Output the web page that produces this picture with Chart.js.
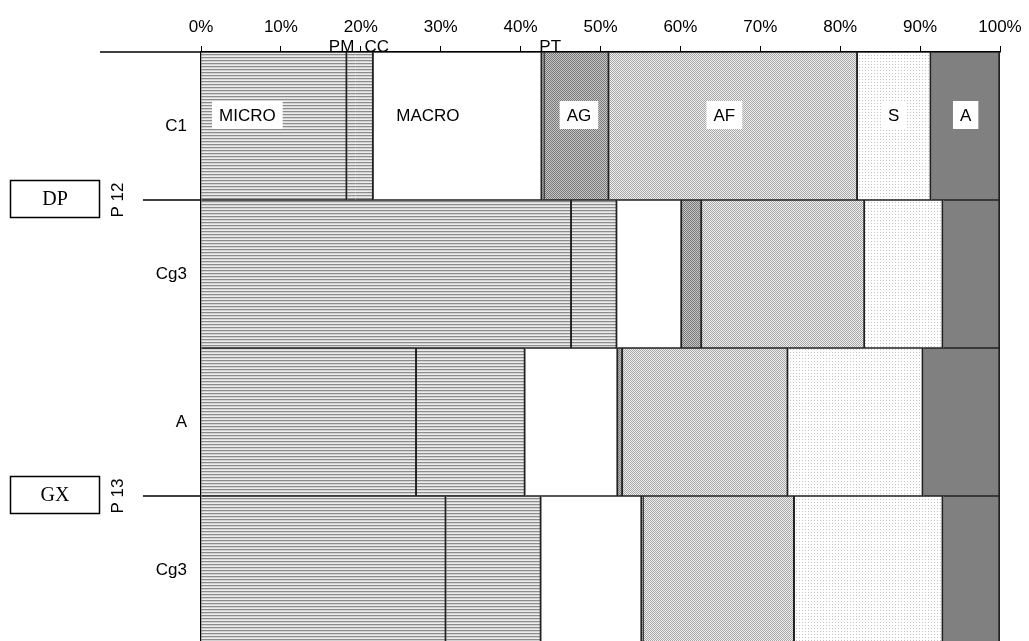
<!DOCTYPE html>
<html>
<head>
<meta charset="utf-8">
<script src="https://cdn.jsdelivr.net/npm/chart.js@4.4.1/dist/chart.umd.min.js"></script>
<style>
  html,body{margin:0;padding:0;background:#fff;overflow:hidden;}
  #wrap{position:absolute;left:0;top:0;width:1029px;height:644px;}
</style>
</head>
<body>
<div id="wrap"><canvas id="grafico" width="1029" height="644"></canvas></div>
<script>
// ===== DADOS =====
const linhas = ["C1", "Cg3", "A", "Cg3"];
const grupos = ["P 12", "P 13"];
const caixas = ["DP", "GX"];
const ticksX = [0, 10, 20, 30, 40, 50, 60, 70, 80, 90, 100];

const micro = [18.3, 46.4, 27.0, 30.7];
const pm    = [1.0, 0, 0, 0];
const cc    = [2.3, 5.7, 13.6, 11.9];
const macro = [21.1, 8.1, 11.6, 12.6];
const pt    = [0.3, 0, 0, 0];
const ag    = [8.1, 2.5, 0.6, 0.2];
const af    = [31.1, 20.4, 20.7, 18.9];
const s     = [9.2, 9.8, 16.9, 18.6];
const a     = [8.6, 7.1, 9.6, 7.1];

// ===== PADRÕES =====
function padrao(w, h, desenha){
  const c = document.createElement("canvas");
  c.width = w; c.height = h;
  const g = c.getContext("2d");
  desenha(g);
  return g.createPattern(c, "repeat");
}

const listras = padrao(4, 3, g => {
  g.fillStyle = "#ececec"; g.fillRect(0,0,4,3);
  g.fillStyle = "#8c8c8c"; g.fillRect(0,0,4,1);
  g.fillStyle = "#d2d2d2"; g.fillRect(0,1,4,1);
});
const escuro = padrao(2, 2, g => {
  g.fillStyle = "#c4c4c4"; g.fillRect(0,0,2,2);
  g.fillStyle = "#7a7a7a"; g.fillRect(0,0,1,1); g.fillRect(1,1,1,1);
});
const medio = padrao(2, 2, g => {
  g.fillStyle = "#eeeeee"; g.fillRect(0,0,2,2);
  g.fillStyle = "#a8a8a8"; g.fillRect(0,0,1,1); g.fillRect(1,1,1,1);
});
const ralo = padrao(3, 3, g => {
  g.fillStyle = "#ffffff"; g.fillRect(0,0,3,3);
  g.fillStyle = "#c4c4c4"; g.fillRect(1,1,1,1);
});

const borda = {left:0, top:1, bottom:1, right:2};
const semBorda = {left:0, top:1, bottom:1, right:0};

function serie(label, data, fundo, bw){
  return {
    label, data,
    backgroundColor: fundo,
    borderColor: "#222",
    borderWidth: bw || borda,
    borderSkipped: false,
    barPercentage: 1,
    categoryPercentage: 1
  };
}

// ===== RÓTULOS =====
const rotulosC1 = [
  {t:"MICRO", x:5.8, caixa:true},
  {t:"MACRO", x:28.4, caixa:false},
  {t:"AG", x:47.3, caixa:true},
  {t:"AF", x:65.5, caixa:true},
  {t:"S", x:86.7, caixa:true},
  {t:"A", x:95.7, caixa:true}
];
const rotulosTopo = [
  {t:"PM", x:17.6},
  {t:"CC", x:22.0},
  {t:"PT", x:43.7}
];

const extras = {
  id: "extras",
  afterDraw(chart){
    const ctx = chart.ctx;
    const xs = chart.scales.x, ys = chart.scales.y;
    const area = chart.chartArea;
    ctx.save();

    // linha do topo prolongada
    ctx.strokeStyle = "#000";
    ctx.lineWidth = 1.5;
    ctx.beginPath();
    ctx.moveTo(100, area.top);
    ctx.lineTo(area.left, area.top);
    ctx.stroke();

    // rótulos dentro da linha C1
    ctx.font = "17px 'Liberation Sans', Arial, sans-serif";
    ctx.textAlign = "center";
    ctx.textBaseline = "middle";
    const yC1 = ys.getPixelForValue(0) - 11;
    rotulosC1.forEach(r => {
      const px = xs.getPixelForValue(r.x);
      const w = ctx.measureText(r.t).width + 14;
      if (r.caixa){
        ctx.fillStyle = "#fff";
        ctx.fillRect(px - w/2, yC1 - 14, w, 28);
      }
      ctx.fillStyle = "#000";
      ctx.fillText(r.t, px, yC1 + 1);
    });

    // rótulos acima do eixo
    ctx.textBaseline = "alphabetic";
    rotulosTopo.forEach(r => {
      ctx.fillText(r.t, xs.getPixelForValue(r.x), area.top);
    });

    // grupos P 12 / P 13 e caixas DP / GX
    grupos.forEach((gname, i) => {
      const yg = (ys.getPixelForValue(i*2) + ys.getPixelForValue(i*2+1)) / 2;

      ctx.strokeStyle = "#000";
      ctx.lineWidth = 1.5;
      ctx.beginPath();
      ctx.moveTo(143, yg);
      ctx.lineTo(area.left, yg);
      ctx.stroke();

      ctx.save();
      ctx.translate(118, yg);
      ctx.rotate(-Math.PI/2);
      ctx.font = "17px 'Liberation Sans', Arial, sans-serif";
      ctx.textAlign = "center";
      ctx.textBaseline = "middle";
      ctx.fillStyle = "#000";
      ctx.fillText(gname, 0, 0);
      ctx.restore();

      ctx.lineWidth = 1.5;
      ctx.strokeRect(10.5, yg - 19.5, 89, 37);
      ctx.font = "20px 'Liberation Serif', 'Times New Roman', serif";
      ctx.textAlign = "center";
      ctx.textBaseline = "middle";
      ctx.fillStyle = "#000";
      ctx.fillText(caixas[i], 55, yg);
    });

    ctx.restore();
  }
};

new Chart(document.getElementById("grafico"), {
  type: "bar",
  data: {
    labels: linhas,
    datasets: [
      serie("MICRO", micro, listras),
      serie("PM", pm, listras, semBorda),
      serie("CC", cc, listras),
      serie("MACRO", macro, "#ffffff"),
      serie("PT", pt, escuro),
      serie("AG", ag, escuro),
      serie("AF", af, medio),
      serie("S", s, ralo),
      serie("A", a, "#808080")
    ]
  },
  options: {
    indexAxis: "y",
    responsive: false,
    animation: false,
    layout: { padding: {left:0, right:29, top:0, bottom:0} },
    plugins: {
      legend: {display:false},
      tooltip: {enabled:false}
    },
    scales: {
      x: {
        position: "top",
        stacked: true,
        min: 0, max: 100,
        afterFit(scale){
          scale.height = 52;
          scale.paddingLeft = 0;
          scale.paddingRight = 0;
        },
        afterBuildTicks(scale){ scale.ticks = ticksX.map(v => ({value:v})); },
        ticks: {
          color: "#000",
          font: {family:"'Liberation Sans', Arial, sans-serif", size:17},
          padding: 8,
          maxRotation: 0,
          autoSkip: false,
          callback: v => v + "%"
        },
        grid: {drawOnChartArea:false, drawTicks:true, tickLength:6, color:"#000", lineWidth:1},
        border: {display:true, color:"#000", width:1.5}
      },
      y: {
        stacked: true,
        afterFit(scale){
          scale.width = 201;
          scale.paddingTop = 0;
          scale.paddingBottom = 0;
        },
        ticks: {
          color: "#000",
          font: {family:"'Liberation Sans', Arial, sans-serif", size:17},
          padding: 14
        },
        grid: {display:false, drawTicks:false},
        border: {display:true, color:"#000", width:1.5}
      }
    }
  },
  plugins: [extras]
});
</script>
</body>
</html>
